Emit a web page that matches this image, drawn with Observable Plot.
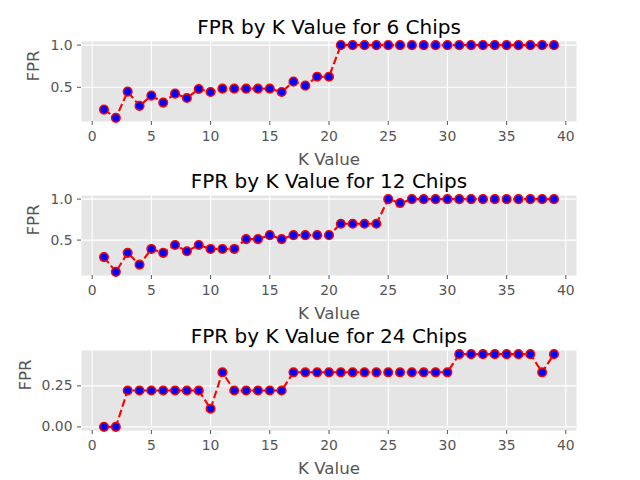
<!DOCTYPE html>
<html>
<head>
<meta charset="utf-8">
<script src="https://cdn.jsdelivr.net/npm/d3@7"></script>
<script src="https://cdn.jsdelivr.net/npm/@observablehq/plot@0.6"></script>
<style>
  body { margin: 0; background: white; }
  #chart { position: relative; width: 640px; height: 480px; font-family: "DejaVu Sans", sans-serif; }
  #chart svg { position: absolute; left: 0; overflow: visible; }
</style>
</head>
<body>
<div id="chart"></div>
<script>
const kValues = [1,2,3,4,5,6,7,8,9,10,11,12,13,14,15,16,17,18,19,20,21,22,23,24,25,26,27,28,29,30,31,32,33,34,35,36,37,38,39];

const fpr6 = [0.236,0.138,0.449,0.280,0.402,0.319,0.425,0.374,0.480,0.445,
              0.484,0.484,0.484,0.484,0.484,0.445,0.567,0.520,0.626,0.626,
              1.0,1.0,1.0,1.0,1.0,1.0,1.0,1.0,1.0,1.0,
              1.0,1.0,1.0,1.0,1.0,1.0,1.0,1.0,1.0];

const fpr12 = [0.292,0.112,0.344,0.200,0.392,0.344,0.440,0.364,0.440,0.392,
               0.392,0.392,0.512,0.512,0.560,0.512,0.560,0.560,0.560,0.560,
               0.700,0.700,0.700,0.700,1.0,0.952,1.0,1.0,1.0,1.0,
               1.0,1.0,1.0,1.0,1.0,1.0,1.0,1.0,1.0];

const fpr24 = [0,0,0.222,0.222,0.222,0.222,0.222,0.222,0.222,0.111,
               0.333,0.222,0.222,0.222,0.222,0.222,0.333,0.333,0.333,0.333,
               0.333,0.333,0.333,0.333,0.333,0.333,0.333,0.333,0.333,0.333,
               0.444,0.444,0.444,0.444,0.444,0.444,0.444,0.333,0.444];

const xTicks = [0,5,10,15,20,25,30,35,40];
const titles = ["FPR by K Value for 6 Chips", "FPR by K Value for 12 Chips", "FPR by K Value for 24 Chips"];
const yTicks6 = [0.5, 1.0];
const yTicks12 = [0.5, 1.0];
const yTicks24 = [0, 0.25];
const xLabel = "K Value";
const yLabel = "FPR";

function pad(lo, hi) {
  const m = (hi - lo) * 0.05;
  return [lo - m, hi + m];
}

function panel(values, title, yTicks, yFormat, top, height, ylabelDx) {
  const data = kValues.map((k, i) => ({k, v: values[i]}));
  const xDomain = pad(d3.min(kValues), d3.max(kValues));
  const yDomain = pad(d3.min(values), d3.max(values));
  const svg = Plot.plot({
    width: 640,
    height: height,
    marginLeft: 81,
    marginRight: 64,
    marginTop: 41,
    marginBottom: height - 121,
    style: {fontFamily: "DejaVu Sans", fontSize: "13.9px", background: "transparent", overflow: "visible"},
    x: {domain: xDomain, ticks: xTicks},
    y: {domain: yDomain, ticks: yTicks},
    marks: [
      Plot.frame({fill: "#E5E5E5", stroke: "none"}),
      Plot.gridX(xTicks, {stroke: "white", strokeOpacity: 1, strokeWidth: 1.1}),
      Plot.gridY(yTicks, {stroke: "white", strokeOpacity: 1, strokeWidth: 1.1}),
      Plot.axisX(xTicks, {tickSize: 4, tickPadding: 6, color: "#555555", fontSize: 13.9, label: null, tickFormat: d3.format("d")}),
      Plot.axisY(yTicks, {tickSize: 4, tickPadding: 5, color: "#555555", fontSize: 13.9, label: null, tickFormat: d3.format(yFormat)}),
      Plot.line(data, {x: "k", y: "v", stroke: "#FF0000", strokeWidth: 2.1, strokeDasharray: "7.7,3.3", strokeLinecap: "butt"}),
      Plot.dot(data, {x: "k", y: "v", r: 4.3, fill: "#0000FF", stroke: "#FF0000", strokeWidth: 1.5}),
      Plot.text([title], {text: d => d, frameAnchor: "top", lineAnchor: "bottom", dy: -8, fontSize: 20, fill: "black"}),
      Plot.text([xLabel], {text: d => d, frameAnchor: "bottom", lineAnchor: "bottom", dy: 43, fontSize: 16.67, fill: "#555555"}),
      Plot.text([yLabel], {text: d => d, frameAnchor: "left", lineAnchor: "middle", rotate: -90, dx: ylabelDx, fontSize: 16.67, fill: "#555555"})
    ]
  });
  svg.style.top = top + "px";
  document.getElementById("chart").appendChild(svg);
}

panel(fpr6, titles[0], yTicks6, ".1f", 0, 160, -48);
panel(fpr12, titles[1], yTicks12, ".1f", 154, 160, -48);
panel(fpr24, titles[2], yTicks24, ".2f", 309, 171, -56);
</script>
</body>
</html>
